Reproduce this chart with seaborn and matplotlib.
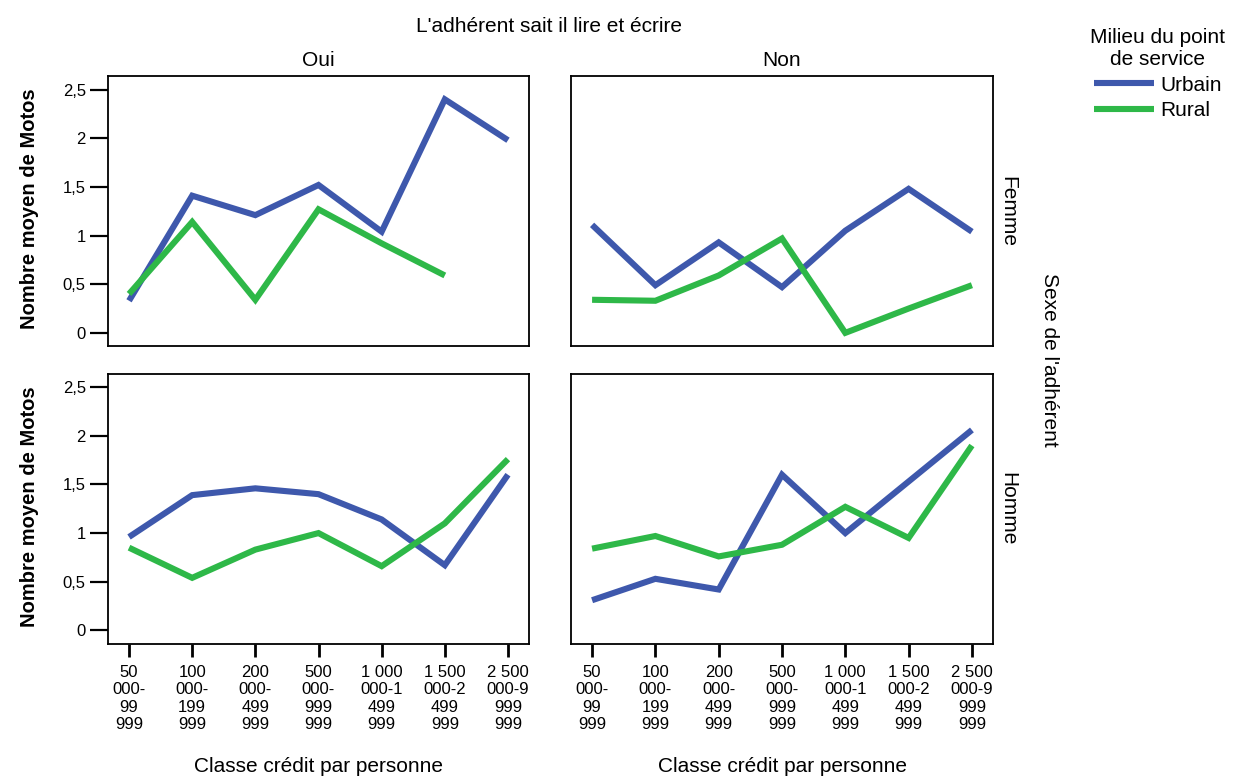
import numpy as np
import pandas as pd
import matplotlib
matplotlib.use("Agg")
import matplotlib.pyplot as plt
from matplotlib import font_manager
import seaborn as sns

# ---- data -------------------------------------------------------------
classes = [
    "50\n000-\n99\n999",
    "100\n000-\n199\n999",
    "200\n000-\n499\n999",
    "500\n000-\n999\n999",
    "1 000\n000-1\n499\n999",
    "1 500\n000-2\n499\n999",
    "2 500\n000-9\n999\n999",
]
literacy = ["Oui", "Non"]
sexes = ["Femme", "Homme"]
milieux = ["Urbain", "Rural"]

oui_femme_urbain = [0.33, 1.41, 1.21, 1.52, 1.04, 2.40, 1.98]
oui_femme_rural = [0.40, 1.14, 0.34, 1.27, 0.92, 0.59, np.nan]
non_femme_urbain = [1.11, 0.49, 0.93, 0.47, 1.05, 1.48, 1.04]
non_femme_rural = [0.34, 0.33, 0.59, 0.97, 0.00, 0.25, 0.49]
oui_homme_urbain = [0.96, 1.39, 1.46, 1.40, 1.14, 0.67, 1.60]
oui_homme_rural = [0.85, 0.54, 0.83, 1.00, 0.66, 1.10, 1.76]
non_homme_urbain = [0.31, 0.53, 0.42, 1.60, 1.00, 1.53, 2.06]
non_homme_rural = [0.84, 0.97, 0.76, 0.88, 1.27, 0.95, 1.90]

y_ticks = [0, 0.5, 1, 1.5, 2, 2.5]
y_tick_labels = ["0", "0,5", "1", "1,5", "2", "2,5"]

series = {
    ("Oui", "Femme", "Urbain"): oui_femme_urbain,
    ("Oui", "Femme", "Rural"): oui_femme_rural,
    ("Non", "Femme", "Urbain"): non_femme_urbain,
    ("Non", "Femme", "Rural"): non_femme_rural,
    ("Oui", "Homme", "Urbain"): oui_homme_urbain,
    ("Oui", "Homme", "Rural"): oui_homme_rural,
    ("Non", "Homme", "Urbain"): non_homme_urbain,
    ("Non", "Homme", "Rural"): non_homme_rural,
}

rows = []
for (lit, sex, mil), vals in series.items():
    for i, v in enumerate(vals):
        rows.append({"lit": lit, "sexe": sex, "milieu": mil, "classe": i, "motos": v})
df = pd.DataFrame(rows).dropna()

# ---- style ------------------------------------------------------------
sns.set_style("white")
available = {f.name for f in font_manager.fontManager.ttflist}
base_font = "Liberation Sans" if "Liberation Sans" in available else "DejaVu Sans"
plt.rcParams["font.family"] = [base_font, "DejaVu Sans"]
plt.rcParams["text.color"] = "black"
plt.rcParams["axes.labelcolor"] = "black"
plt.rcParams["xtick.color"] = "black"
plt.rcParams["ytick.color"] = "black"

palette = {"Urbain": "#3E58AC", "Rural": "#2EB848"}

W, H = 1244, 779
fig = plt.figure(figsize=(W / 100, H / 100), dpi=100)


def fx(px):
    return px / W


def fy(py):
    return 1 - py / H


col_x = [(108, 529), (571, 993)]
row_y = [(76, 346), (374, 644)]
ylims = [(-0.135, 2.64), (-0.14, 2.635)]

TITLE_FS = 15
TICK_FS = 12

handles = None
for r, sex in enumerate(sexes):
    for c, lit in enumerate(literacy):
        x0, x1 = col_x[c]
        y0, y1 = row_y[r]
        ax = fig.add_axes([fx(x0), fy(y1), fx(x1) - fx(x0), (y1 - y0) / H])
        sub = df[(df["lit"] == lit) & (df["sexe"] == sex)]
        sns.lineplot(
            data=sub, x="classe", y="motos", hue="milieu",
            hue_order=milieux, palette=palette, estimator=None,
            errorbar=None, linewidth=4.4, ax=ax,
            legend=(r == 0 and c == 0),
        )
        for ln in ax.lines:
            ln.set_solid_joinstyle("miter")
            ln.set_solid_capstyle("butt")
        if ax.get_legend() is not None:
            handles = ax.get_legend().legend_handles
            ax.get_legend().remove()

        ax.set_xlim(-0.333, 6.333)
        ax.set_ylim(*ylims[r])
        ax.set_xlabel("")
        ax.set_ylabel("")
        for sp in ax.spines.values():
            sp.set_visible(True)
            sp.set_color("black")
            sp.set_linewidth(1.3)

        ax.set_yticks(y_ticks)
        ax.set_xticks(range(len(classes)))
        if c == 0:
            ax.set_yticklabels(y_tick_labels, fontsize=TICK_FS)
            ax.tick_params(axis="y", left=True, length=13, width=1.6,
                           pad=3, color="black", labelcolor="black")
        else:
            ax.tick_params(axis="y", left=False, labelleft=False)
        if r == 1:
            ax.set_xticklabels(classes, fontsize=TICK_FS, linespacing=1.2)
            ax.tick_params(axis="x", bottom=True, length=9.5, width=2.0,
                           pad=5.5, color="black", labelcolor="black")
            fig.text(fx((x0 + x1) / 2), fy(767), "Classe crédit par personne",
                     ha="center", va="center", fontsize=TITLE_FS)
        else:
            ax.tick_params(axis="x", bottom=False, labelbottom=False)

        if r == 0:
            fig.text(fx((x0 + x1) / 2), fy(60), lit, ha="center", va="center",
                     fontsize=TITLE_FS)
        if c == 1:
            fig.text(fx(1008), fy((y0 + y1) / 2), sex, ha="center", va="center",
                     rotation=270, fontsize=TITLE_FS)
        if c == 0:
            fig.text(fx(30), fy((y0 + y1) / 2 - 2), "Nombre moyen de Motos",
                     ha="center", va="center", rotation=90,
                     fontsize=14.5, fontweight="bold")

fig.text(fx(549), fy(27), "L'adhérent sait il lire et écrire",
         ha="center", va="center", fontsize=TITLE_FS)
fig.text(fx(1049), fy(360), "Sexe de l'adhérent", ha="center", va="center",
         rotation=270, fontsize=TITLE_FS)

for h in handles:
    h.set_linewidth(4.4)
    h.set_solid_capstyle("butt")
leg = fig.legend(
    handles, milieux, loc="upper center",
    bbox_to_anchor=(fx(1158), fy(28)),
    title="Milieu du point\nde service", title_fontsize=TITLE_FS,
    fontsize=TITLE_FS, frameon=False, handlelength=2.9,
    handletextpad=0.3, labelspacing=0.32, borderpad=0, borderaxespad=0,
)
leg.get_title().set_multialignment("center")
leg.get_title().set_color("black")
for t in leg.get_texts():
    t.set_color("black")

fig.savefig("out.png", dpi=100)
